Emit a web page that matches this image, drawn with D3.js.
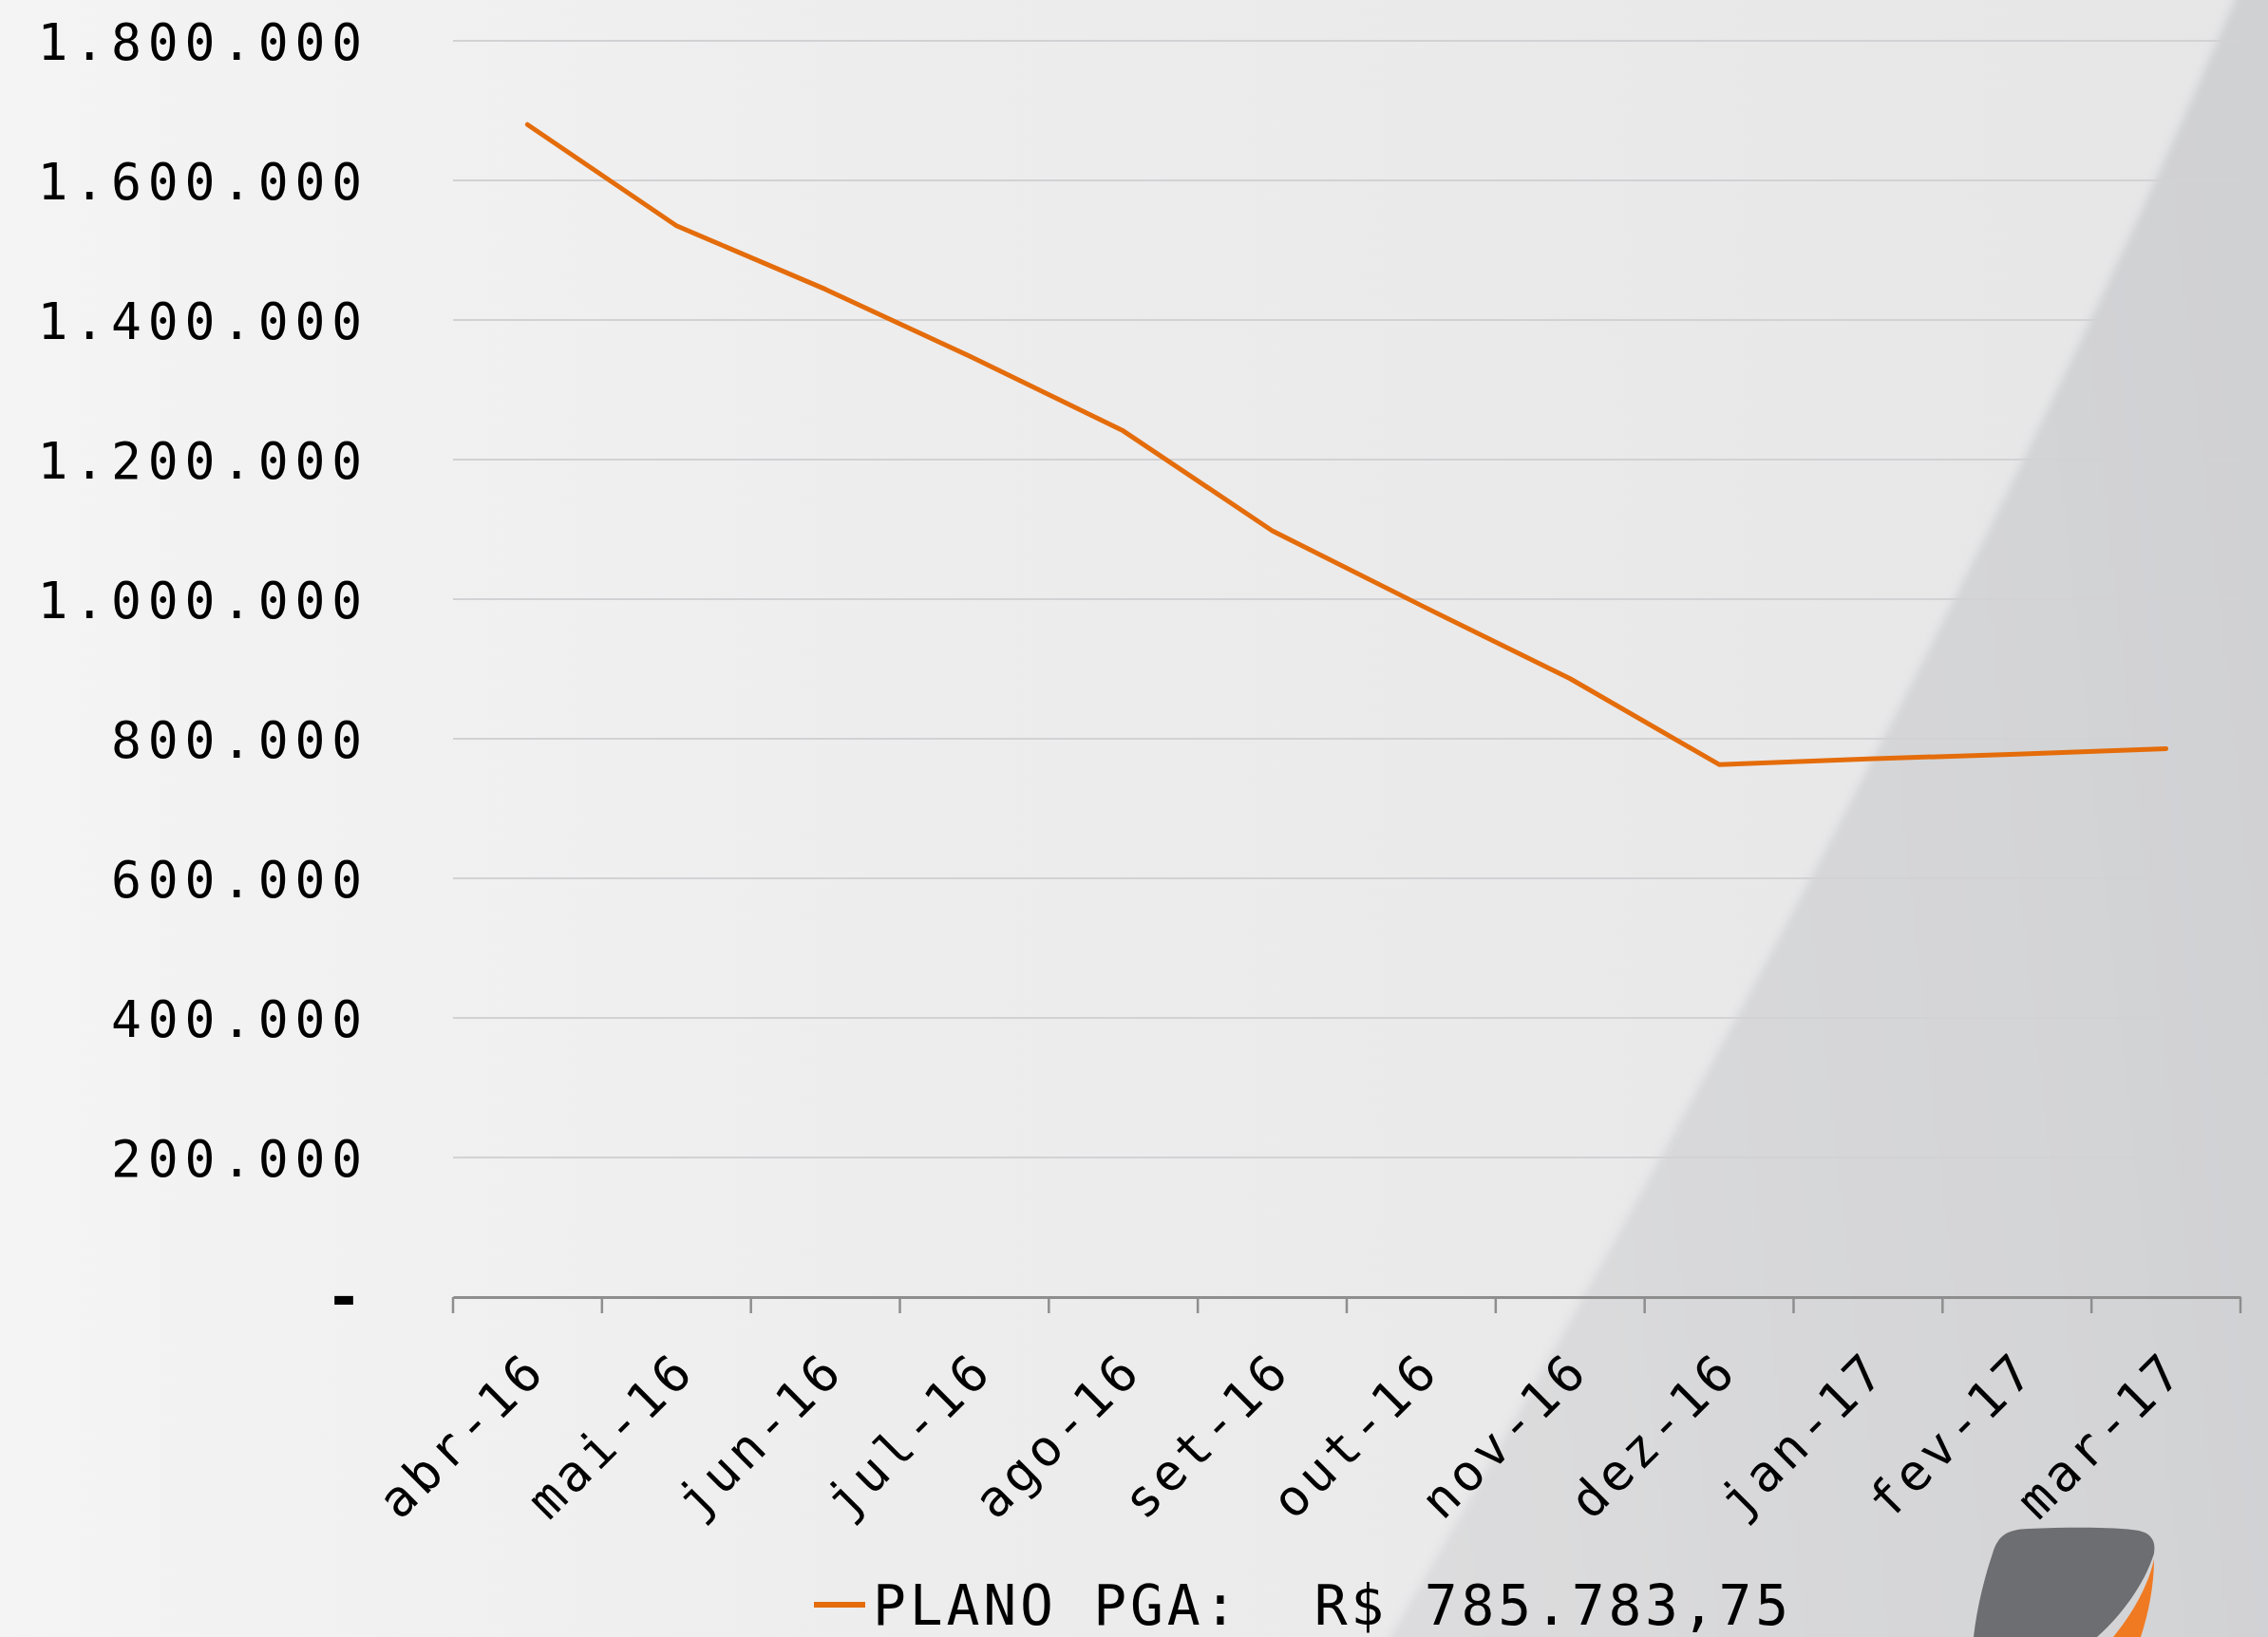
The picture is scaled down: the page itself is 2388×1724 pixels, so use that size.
<!DOCTYPE html>
<html>
<head>
<meta charset="utf-8">
<script src="https://cdn.jsdelivr.net/npm/d3@7"></script>
<style>
  html, body { margin: 0; padding: 0; overflow: hidden; }
  body { width: 2388px; height: 1724px; }
  text { font-family: "DejaVu Sans Mono", "Liberation Mono", monospace; fill: #000; }
</style>
</head>
<body>
<script>
// chart data
const months = ["abr-16", "mai-16", "jun-16", "jul-16", "ago-16", "set-16",
                "out-16", "nov-16", "dez-16", "jan-17", "fev-17", "mar-17"];
const saldo = [1680000, 1535000, 1444000, 1345000, 1241000, 1098000,
               991000, 886000, 763000, 771000, 778000, 785783.75];
const yTicks = [0, 200000, 400000, 600000, 800000, 1000000, 1200000, 1400000, 1600000, 1800000];
const legendLabel = "PLANO PGA:  R$ 785.783,75";

const W = 2388, H = 1724;
let margin = {top: 43, right: 29, bottom: 358, left: 477},
    width = W - margin.left - margin.right,
    height = H - margin.top - margin.bottom;

// pt-BR number format: 1.800.000, zero shown as "-"
const fmt = v => v === 0 ? "-" : d3.format(",.0f")(v).replace(/,/g, ".");

let svg = d3.select("body")
  .append("svg")
  .attr("width", W)
  .attr("height", H);

// background
let defs = svg.append("defs");
let bg = defs.append("linearGradient").attr("id", "bg")
  .attr("x1", 0).attr("y1", 0).attr("x2", 1).attr("y2", 0);
bg.append("stop").attr("offset", "0").attr("stop-color", "#f4f4f4");
bg.append("stop").attr("offset", "0.4").attr("stop-color", "#ededee");
bg.append("stop").attr("offset", "1").attr("stop-color", "#e6e6e7");
let sw = defs.append("linearGradient").attr("id", "swoosh")
  .attr("x1", 0).attr("y1", 0.6).attr("x2", 1).attr("y2", 0.4);
sw.append("stop").attr("offset", "0").attr("stop-color", "#dcdcde");
sw.append("stop").attr("offset", "1").attr("stop-color", "#d0d1d3");
defs.append("filter").attr("id", "soft")
  .append("feGaussianBlur").attr("stdDeviation", 4);

svg.append("rect").attr("width", W).attr("height", H).attr("fill", "url(#bg)");
const swooshEdge = "M2353,-10 Q2050,700 1454,1734";
svg.append("path").attr("d", swooshEdge + " L2400,1734 L2400,-10 Z")
  .attr("fill", "url(#swoosh)")
  .attr("filter", "url(#soft)");
svg.append("path").attr("d", swooshEdge)
  .attr("fill", "none").attr("stroke", "#ececed").attr("stroke-width", 8)
  .attr("opacity", 0.6).attr("filter", "url(#soft)");

// logo fragment bottom right
let logo = svg.append("g");
logo.append("path")
  .attr("d", "M2098,1636 C2104,1616 2114,1611 2135,1610 C2180,1608 2230,1608 2252,1612 C2266,1615 2270,1624 2268,1636 C2258,1668 2235,1700 2208,1724 L2078,1724 C2082,1690 2090,1660 2098,1636 Z")
  .attr("fill", "#6d6e71");
logo.append("path")
  .attr("d", "M2268,1642 C2268,1670 2262,1700 2254,1724 L2225,1724 C2245,1700 2262,1670 2268,1642 Z")
  .attr("fill", "#f07a22");

let g = svg.append("g")
  .attr("transform", "translate(" + margin.left + "," + margin.top + ")");

// scales
let x = d3.scaleBand().domain(months).range([0, width]);
let y = d3.scaleLinear().domain([0, 1800000]).range([height, 0]);

// gridlines
g.append("g")
  .selectAll("line")
  .data(yTicks.filter(d => d > 0))
  .enter()
  .append("line")
  .attr("x1", 0).attr("x2", width)
  .attr("y1", d => y(d)).attr("y2", d => y(d))
  .attr("stroke", "#d2d2d4")
  .attr("stroke-width", 2);

// y axis labels
let yAxis = g.append("g")
  .call(d3.axisLeft(y).tickValues(yTicks).tickFormat(fmt).tickSize(0).tickPadding(89));
yAxis.select(".domain").remove();
yAxis.selectAll("text")
  .style("font-size", "53px")
  .style("letter-spacing", "6.8px")
  .attr("dy", "0.36em");
yAxis.selectAll("text")
  .filter(d => d === 0)
  .style("font-weight", "bold")
  .style("font-size", "64px")
  .attr("dy", "0.33em");

// x axis
let xAxis = g.append("g")
  .attr("transform", "translate(0," + height + ")")
  .call(d3.axisBottom(x).tickSize(0).tickPadding(0));
xAxis.select(".domain")
  .attr("stroke", "#8e8e8e")
  .attr("stroke-width", 3);
xAxis.selectAll(".tick line").remove();
xAxis.append("g")
  .selectAll("line")
  .data(d3.range(months.length + 1))
  .enter()
  .append("line")
  .attr("x1", i => i * x.step()).attr("x2", i => i * x.step())
  .attr("y1", 0).attr("y2", 17)
  .attr("stroke", "#8e8e8e")
  .attr("stroke-width", 2.5);
xAxis.selectAll(".tick text")
  .style("font-size", "53px")
  .style("letter-spacing", "5px")
  .attr("text-anchor", "end")
  .attr("dy", 0)
  .attr("transform", "translate(22,80) rotate(-45)");

// line
let line = d3.line()
  .x((d, i) => x(months[i]) + x.bandwidth() / 2)
  .y(d => y(d));
g.append("path")
  .datum(saldo)
  .attr("fill", "none")
  .attr("stroke", "#e46c0a")
  .attr("stroke-width", 5)
  .attr("stroke-linejoin", "round")
  .attr("stroke-linecap", "round")
  .attr("d", line);

// legend
let legend = svg.append("g").attr("transform", "translate(857,1690)");
legend.append("line")
  .attr("x1", 0).attr("x2", 54)
  .attr("y1", 0).attr("y2", 0)
  .attr("stroke", "#e46c0a")
  .attr("stroke-width", 6);
legend.append("text")
  .attr("x", 62)
  .attr("y", 21)
  .style("font-size", "58px")
  .style("letter-spacing", "3.8px")
  .style("white-space", "pre")
  .text(legendLabel);
</script>
</body>
</html>
